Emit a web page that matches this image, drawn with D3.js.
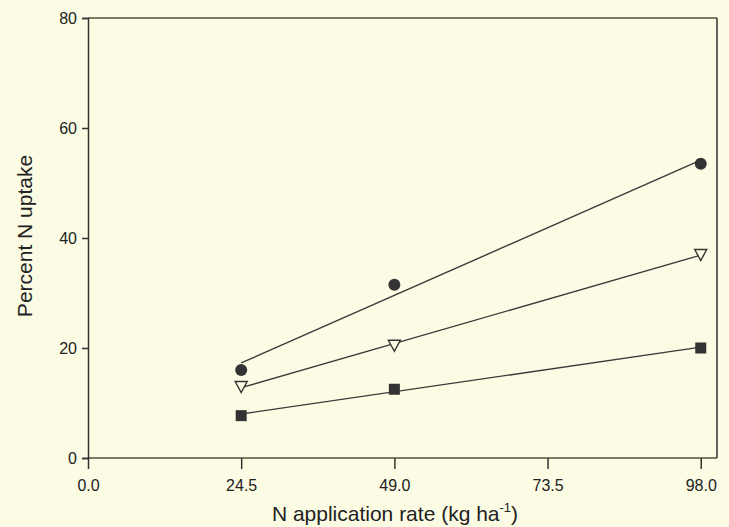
<!DOCTYPE html>
<html><head><meta charset="utf-8">
<script src="https://cdn.jsdelivr.net/npm/d3@7"></script>
<style>
html,body{margin:0;padding:0;background:#fcfce4;}
svg{display:block;}
text{font-family:"Liberation Sans",Arial,sans-serif;fill:#222;}
</style></head>
<body>
<svg id="c" width="729" height="527"></svg>
<script>
const rates = [24.5, 49.0, 98.0];
const circleVals = [16.0, 31.5, 53.5];
const triangleVals = [13.0, 20.5, 37.0];
const squareVals = [7.7, 12.5, 20.0];
const xTicks = [0, 24.5, 49.0, 73.5, 98.0];
const yTicks = [0, 20, 40, 60, 80];

const svg = d3.select("#c");
const L = 88, R = 717, T = 18, B = 458;
const x = d3.scaleLinear().domain([0, 100.6]).range([L, R]);
const y = d3.scaleLinear().domain([0, 80]).range([B, T]);

// frame
svg.append("line").attr("x1",L).attr("x2",R).attr("y1",T).attr("y2",T).attr("stroke","#7c7c64").attr("stroke-width",2);
svg.append("line").attr("x1",L).attr("x2",R).attr("y1",B).attr("y2",B).attr("stroke","#7c7c64").attr("stroke-width",2);
svg.append("line").attr("x1",R).attr("x2",R).attr("y1",T).attr("y2",B).attr("stroke","#333").attr("stroke-width",1.5);

const xa = svg.append("g").attr("transform",`translate(0,${B})`)
  .call(d3.axisBottom(x).tickValues(xTicks).tickFormat(d3.format(".1f")).tickSize(11).tickPadding(11));
const ya = svg.append("g").attr("transform",`translate(${L},0)`)
  .call(d3.axisLeft(y).tickValues(yTicks).tickSize(6).tickPadding(5));
xa.select(".domain").remove();
ya.select(".domain").attr("stroke","#333").attr("stroke-width",1.5);
[xa,ya].forEach(g=>{
  g.selectAll(".tick line").attr("stroke","#333").attr("stroke-width",1.5);
  g.selectAll(".tick text").style("font-size","16px").style("font-family","'Liberation Sans',Arial,sans-serif").attr("fill","#222");
});

function fit(xs, ys){
  const mx = d3.mean(xs), my = d3.mean(ys);
  const sxy = d3.sum(xs, (v,i)=>(v-mx)*(ys[i]-my));
  const sxx = d3.sum(xs, v=>(v-mx)*(v-mx));
  const b = sxy/sxx, a = my - b*mx;
  return v => a + b*v;
}

const series = [
  {vals: circleVals, shape: "circle"},
  {vals: triangleVals, shape: "triangle"},
  {vals: squareVals, shape: "square"}
];
series.forEach(s=>{
  const f = fit(rates, s.vals);
  const ends = [rates[0], rates[rates.length-1]];
  svg.append("path").datum(ends)
    .attr("d", d3.line().x(d=>x(d)).y(d=>y(f(d))))
    .attr("stroke","#3a3a3a").attr("stroke-width",1.4).attr("fill","none");
});
series.forEach(s=>{
  const g = svg.append("g");
  rates.forEach((r,i)=>{
    const cx = x(r), cy = y(s.vals[i]);
    if (s.shape==="circle") {
      g.append("circle").attr("cx",cx).attr("cy",cy).attr("r",6).attr("fill","#333");
    } else if (s.shape==="square") {
      g.append("rect").attr("x",cx-5.5).attr("y",cy-5.5).attr("width",11).attr("height",11).attr("fill","#333");
    } else {
      g.append("path").attr("d",`M${cx-6},${cy-5} L${cx+6},${cy-5} L${cx},${cy+6} Z`)
        .attr("fill","#fcfce4").attr("stroke","#333").attr("stroke-width",1.4);
    }
  });
});

// titles
svg.append("text").attr("transform","translate(32,236) rotate(-90)").attr("text-anchor","middle")
  .style("font-size","21px").text("Percent N uptake");
const xt = svg.append("text").attr("x",395).attr("y",521).attr("text-anchor","middle").style("font-size","21px");
xt.append("tspan").text("N application rate (kg ha");
xt.append("tspan").attr("dy",-9).style("font-size","13px").text("-1");
xt.append("tspan").attr("dy",9).text(")");
</script>
</body></html>
